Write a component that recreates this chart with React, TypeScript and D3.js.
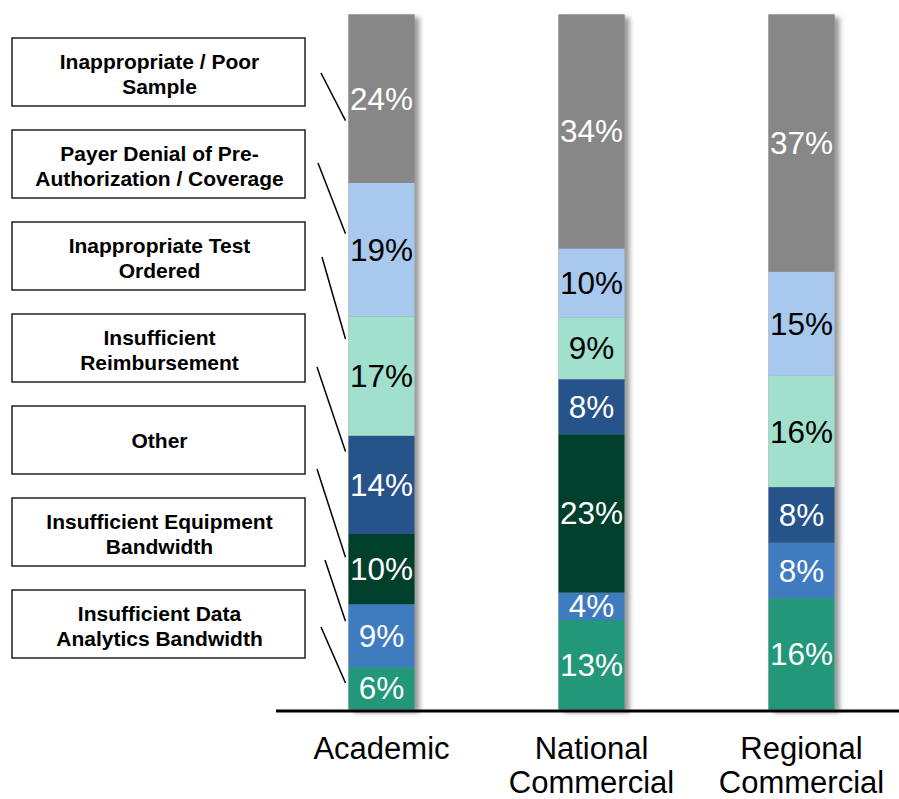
import React from "react";
import * as d3 from "d3";

const categories = ["Academic", "National Commercial", "Regional Commercial"];
const categoryLines = [["Academic"], ["National", "Commercial"], ["Regional", "Commercial"]];

// series from bottom to top
const seriesNames = [
  "Insufficient Data Analytics Bandwidth",
  "Insufficient Equipment Bandwidth",
  "Other",
  "Insufficient Reimbursement",
  "Inappropriate Test Ordered",
  "Payer Denial of Pre-Authorization / Coverage",
  "Inappropriate / Poor Sample",
];
const dataAnalytics = [6, 13, 16];
const equipment = [9, 4, 8];
const other = [10, 23, 0];
const reimbursement = [14, 8, 8];
const testOrdered = [17, 9, 16];
const payerDenial = [19, 10, 15];
const poorSample = [24, 34, 37];
const seriesValues = [dataAnalytics, equipment, other, reimbursement, testOrdered, payerDenial, poorSample];

const seriesColors = ["#22977a", "#3f7bbf", "#013f2d", "#26538a", "#a0e0cc", "#a9c8ee", "#878787"];
const labelColors = ["#fff", "#fff", "#fff", "#fff", "#000", "#000", "#fff"];

// legend boxes top to bottom
const legendLines = [
  ["Inappropriate / Poor", "Sample"],
  ["Payer Denial of Pre-", "Authorization / Coverage"],
  ["Inappropriate Test", "Ordered"],
  ["Insufficient", "Reimbursement"],
  ["Other"],
  ["Insufficient Equipment", "Bandwidth"],
  ["Insufficient Data", "Analytics Bandwidth"],
];
const legendSeriesIndex = [6, 5, 4, 3, 2, 1, 0];
const leaderStartX = [321, 318, 322, 317, 317, 325, 321];
const leaderStartDy = [1, -1, 1, 19, 29, 28, 3];
const leaderEndFrac = [0.63, 0.38, 0.19, 0.16, 0.33, 0.27, 0.37];

const W = 899;
const H = 799;
const FONT = "'Liberation Sans', Arial, Helvetica, sans-serif";

export default function App() {
  const rows = categories.map((c, i) => {
    const r: any = { cat: c };
    seriesNames.forEach((s, j) => (r[s] = seriesValues[j][i]));
    return r;
  });
  const stack = d3.stack<any>().keys(seriesNames).offset(d3.stackOffsetExpand);
  const stacked = stack(rows);

  const x = d3.scalePoint<string>().domain(categories).range([276.5, 906.5]).padding(0.5);
  const barW = 66;
  const y = d3.scaleLinear().domain([0, 1]).range([709.5, 14.5]);

  const boxX = 12;
  const boxW = 293;
  const boxH = 68;
  const boxTop = d3.scaleLinear().domain([0, 1]).range([38, 130]);

  return (
    <svg width={W} height={H} style={{ position: "absolute", left: 0, top: 0, background: "#fff" }} fontFamily={FONT}>
      <defs>
        <filter id="shadow" x="-20%" y="-5%" width="150%" height="115%">
          <feDropShadow dx="5" dy="3" stdDeviation="2.5" floodColor="#000" floodOpacity="0.4" />
        </filter>
      </defs>
      {categories.map((c) => (
        <rect
          key={"sh" + c}
          x={(x(c) as number) - barW / 2}
          y={y(1)}
          width={barW}
          height={y(0) - y(1)}
          fill="#888"
          filter="url(#shadow)"
        />
      ))}
      {stacked.map((layer, j) =>
        layer.map((d, i) => {
          const v = seriesValues[j][i];
          if (!v) return null;
          const cx = x(categories[i]) as number;
          const y0 = y(d[1]);
          const y1 = y(d[0]);
          return (
            <g key={j + "-" + i}>
              <rect x={cx - barW / 2} y={y0} width={barW} height={y1 - y0} fill={seriesColors[j]} />
              <text
                x={cx}
                y={(y0 + y1) / 2 + 11}
                textAnchor="middle"
                fontSize={31.5}
                fill={labelColors[j]}
              >
                {v + "%"}
              </text>
            </g>
          );
        })
      )}
      <line x1={276} x2={899} y1={711} y2={711} stroke="#000" strokeWidth={3} />
      {categoryLines.map((lines, i) => (
        <g key={"cat" + i}>
          {lines.map((t, k) => (
            <text
              key={k}
              x={x(categories[i]) as number}
              y={759 + k * 34}
              textAnchor="middle"
              fontSize={31}
              fill="#000"
            >
              {t}
            </text>
          ))}
        </g>
      ))}
      {legendLines.map((lines, k) => {
        const top = boxTop(k);
        const cy = top + boxH / 2;
        const sIdx = legendSeriesIndex[k];
        const seg = stacked[sIdx][0];
        const ey = y(seg[1]) + (y(seg[0]) - y(seg[1])) * leaderEndFrac[k];
        const ex = (x(categories[0]) as number) - barW / 2 - 3;
        return (
          <g key={"lg" + k}>
            <rect x={boxX} y={top} width={boxW} height={boxH} fill="#fff" stroke="#222" strokeWidth={1.5} />
            {lines.map((t, li) => (
              <text
                key={li}
                x={boxX + boxW / 2 + 1}
                y={lines.length === 1 ? cy + 7.5 : cy - 3 + li * 24.5}
                textAnchor="middle"
                fontSize={21}
                fontWeight="bold"
                fill="#000"
              >
                {t}
              </text>
            ))}
            <line x1={leaderStartX[k]} y1={cy + leaderStartDy[k]} x2={ex} y2={ey} stroke="#000" strokeWidth={1.5} />
          </g>
        );
      })}
    </svg>
  );
}
